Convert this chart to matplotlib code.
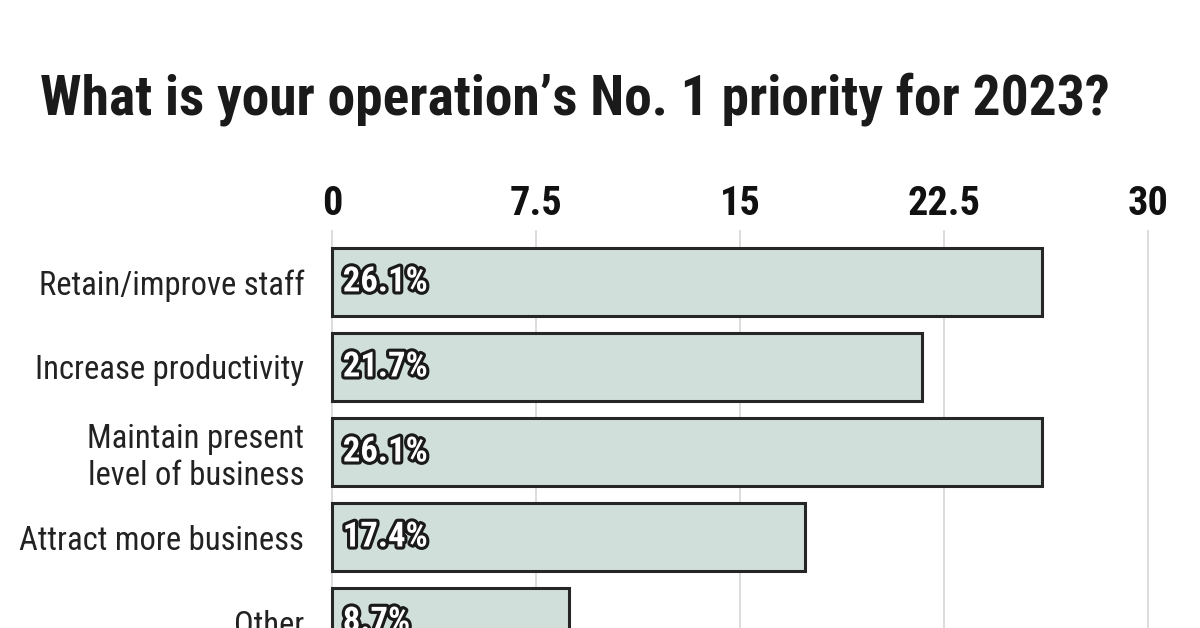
import matplotlib
matplotlib.use('Agg')
import matplotlib.pyplot as plt
import matplotlib.patheffects as pe

# Survey data
categories = ['Retain/improve staff', 'Increase productivity',
              'Maintain present\nlevel of business', 'Attract more business', 'Other']
values = [26.1, 21.7, 26.1, 17.4, 8.7]
ticks = [0, 7.5, 15, 22.5, 30]
tick_labels = ['0', '7.5', '15', '22.5', '30']

narrow = ['Roboto Condensed', 'Roboto', 'DejaVu Sans']

fig = plt.figure(figsize=(12, 6.28), dpi=100)
fig.patch.set_facecolor('white')

fig.text(0.479, 0.843, 'What is your operation\u2019s No. 1 priority for 2023?',
         ha='center', va='center', fontsize=40, fontweight='bold',
         family=narrow, color='#1a1a1a')

ax = fig.add_axes([0.2675, 0.0, 0.696, 0.634])
ypos = list(range(len(categories)))

ax.barh(ypos, values, height=0.8, color='#d0dfda', edgecolor='#262626',
        linewidth=2.2, zorder=3)

# value labels: white with dark outline
for y, v in zip(ypos, values):
    ax.text(0.4, y, f'{v}%', ha='left', va='center', fontsize=25,
            fontweight='bold', family=narrow, color='white', zorder=5,
            path_effects=[pe.withStroke(linewidth=4.5, foreground='#1a1a1a')])

ax.set_xlim(-0.4, 30.3)
ax.set_ylim(4.07, -0.612)
ax.set_xticks(ticks)
ax.set_xticklabels(tick_labels)
ax.xaxis.tick_top()
ax.tick_params(axis='x', length=0, pad=5)
for lab in ax.get_xticklabels():
    lab.set_fontsize(29)
    lab.set_fontweight('bold')
    lab.set_family(narrow)
    lab.set_color('#111111')

ax.set_yticks(ypos)
ax.set_yticklabels(categories)
ax.tick_params(axis='y', length=0, pad=12)
for lab in ax.get_yticklabels():
    lab.set_fontsize(23.5)
    lab.set_family(narrow)
    lab.set_color('#222222')
    lab.set_multialignment('right')

ax.grid(axis='x', color='#d6d6d6', linewidth=1.2, zorder=0)
ax.set_axisbelow(True)
for s in ax.spines.values():
    s.set_visible(False)

fig.savefig('out.png', dpi=100, facecolor='white')
